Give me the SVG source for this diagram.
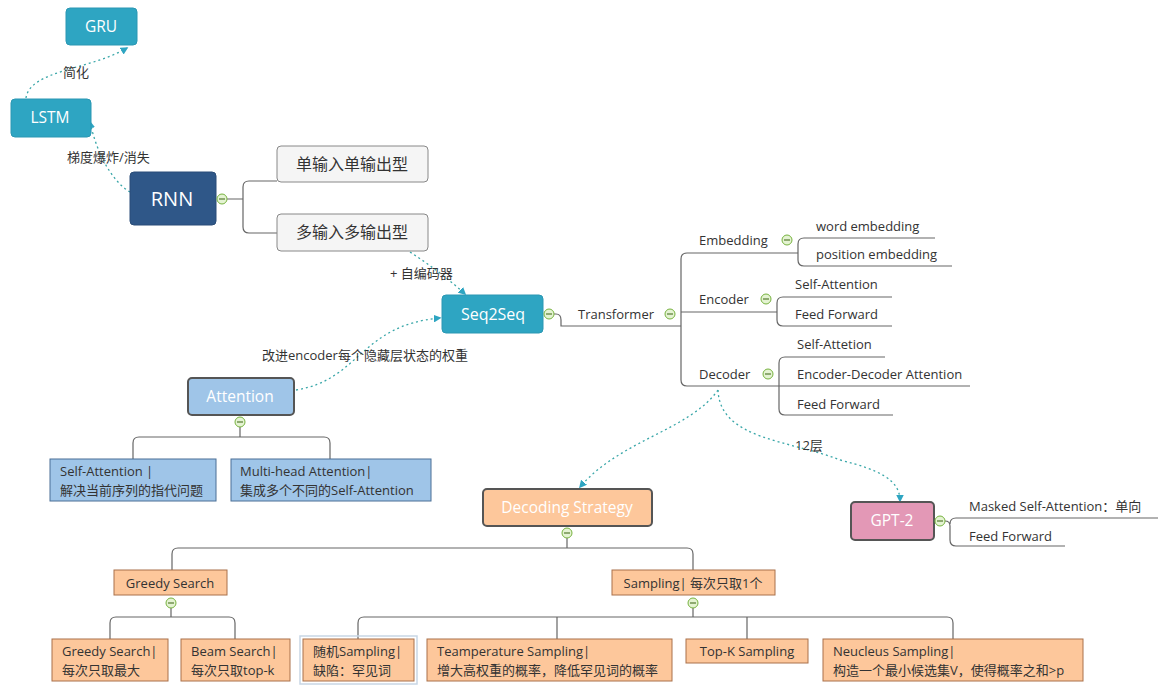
<svg xmlns="http://www.w3.org/2000/svg" width="1164" height="686" viewBox="0 0 1164 686">
<defs>
<style>
text{font-family:"Open Sans","Noto Sans CJK SC",sans-serif;font-size:13px;fill:#333}
text.w{fill:#fff;text-anchor:middle;font-size:15.5px}
text.c{text-anchor:middle}
text.big{font-size:16px}
text.rnn{font-size:20px}
text.s2s{font-size:16px}
.ln{fill:none;stroke:#666;stroke-width:1.2}
.dash{fill:none;stroke:#3aa7a9;stroke-width:1.3;stroke-dasharray:2 3;marker-end:url(#ah)}
.teal{fill:#2ea5c2;stroke:#2a97b3;stroke-width:1}
.gray{fill:#f5f5f5;stroke:#888;stroke-width:1}
.blue{fill:#9fc5e8;stroke:#4a6f96;stroke-width:1}
.orange{fill:#fdc79b;stroke:#a9714a;stroke-width:1}
.hl{stroke:#555;stroke-width:2}
.tog circle{fill:#e4f3d2;stroke:#77b23f;stroke-width:1}
.tog line{stroke:#557a30;stroke-width:1.2}
</style>
<marker id="ah" viewBox="0 0 10 10" refX="8" refY="5" markerWidth="6" markerHeight="6" orient="auto-start-reverse">
<path d="M0,0 L10,5 L0,10 z" fill="#2ea5c2"/>
</marker>
<g id="tg" class="tog"><circle r="5"/><line x1="-3" y1="0" x2="3" y2="0"/></g>
</defs>
<rect width="1164" height="686" fill="#fff"/>

<g id="connectors">
<path class="ln" d="M227,199 H243 M277,181 H249 Q243,181 243,187 V227 Q243,233 249,233 H277"/>
<path class="ln" d="M554,314 H556 Q561,314 561,320 V326 H681"/>
<path class="ln" d="M798,253 H687 Q681,253 681,259 V380 Q681,386 687,386 H970 M681,312 H777"/>
<path class="ln" d="M935,238 H804 Q798,238 798,244 V260 Q798,266 804,266 H952"/>
<path class="ln" d="M892,297 H783 Q777,297 777,303 V320 Q777,326 783,326 H892"/>
<path class="ln" d="M885,357 H785 Q779,357 779,363 V409 Q779,415 785,415 H893"/>
<path class="ln" d="M945,521 Q950,521 950,526 V540 Q950,546 956,546 H1065 M950,524 Q950,518 956,518 H1158"/>
<path class="ln" d="M240,427 V437 M133,459 V443 Q133,437 139,437 H324 Q330,437 330,443 V459"/>
<path class="ln" d="M567,538 V548 M172,570 V554 Q172,548 178,548 H687 Q693,548 693,554 V570"/>
<path class="ln" d="M171,608 V617 M110,639 V623 Q110,617 116,617 H229 Q235,617 235,623 V639"/>
<path class="ln" d="M693,608 V617 M358,639 V623 Q358,617 364,617 H947 Q953,617 953,623 V639 M557,617 V639 M747,617 V639"/>
<path class="dash" d="M130,192 C110,180 96,150 90,122"/>
<path class="dash" d="M26,98 C30,70 90,70 127,48"/>
<path class="dash" d="M410,252 C430,265 450,280 465,294"/>
<path class="dash" d="M296,390 C360,380 360,325 440,318"/>
<path class="dash" d="M718,390 C690,430 620,440 580,487"/>
<path class="dash" d="M718,390 C720,440 790,440 840,460 C880,470 900,480 900,501"/>
<text x="63" y="77">简化</text>
<text x="67" y="162">梯度爆炸/消失</text>
<text x="390" y="278">+ 自编码器</text>
<text x="262" y="360">改进encoder每个隐藏层状态的权重</text>
<text x="795" y="450">12层</text>
</g>

<g id="gru"><rect class="teal" x="66" y="8" width="71" height="37" rx="4"/><text class="w" x="101" y="32">GRU</text></g>
<g id="lstm"><rect class="teal" x="11" y="99" width="80" height="38" rx="4"/><text class="w" x="50" y="123">LSTM</text></g>
<g id="rnn"><rect x="130" y="172" width="86" height="53" rx="4" fill="#2f5788" stroke="#2a4d78"/><text class="w rnn" x="172" y="206">RNN</text><use href="#tg" x="222" y="199"/></g>
<g id="single"><rect class="gray" x="277" y="146" width="151" height="36" rx="4"/><text class="c big" x="352" y="170">单输入单输出型</text></g>
<g id="multi"><rect class="gray" x="277" y="214" width="151" height="37" rx="4"/><text class="c big" x="352" y="238">多输入多输出型</text></g>
<g id="seq2seq"><rect class="teal" x="442" y="295" width="101" height="38" rx="4"/><text class="w s2s" x="493" y="320">Seq2Seq</text><use href="#tg" x="549" y="314"/></g>
<g id="transformer"><text x="578" y="319">Transformer</text><use href="#tg" x="670" y="314"/></g>
<g id="embedding"><text x="699" y="245">Embedding</text><use href="#tg" x="787" y="240"/></g>
<g id="word-emb"><text x="816" y="231">word embedding</text></g>
<g id="pos-emb"><text x="816" y="259">position embedding</text></g>
<g id="encoder"><text x="699" y="304">Encoder</text><use href="#tg" x="766" y="299"/></g>
<g id="enc-sa"><text x="795" y="289">Self-Attention</text></g>
<g id="enc-ff"><text x="795" y="319">Feed Forward</text></g>
<g id="decoder"><text x="699" y="379">Decoder</text><use href="#tg" x="768" y="374"/></g>
<g id="dec-sa"><text x="797" y="349">Self-Attetion</text></g>
<g id="dec-eda"><text x="797" y="379">Encoder-Decoder Attention</text></g>
<g id="dec-ff"><text x="797" y="409">Feed Forward</text></g>

<g id="attention"><rect class="blue hl" x="188" y="378" width="106" height="37" rx="4"/><text class="w" x="240" y="402">Attention</text><use href="#tg" x="240" y="422"/></g>
<g id="self-att"><rect class="blue" x="50" y="459" width="166" height="42"/><text x="60" y="476">Self-Attention |</text><text x="60" y="495">解决当前序列的指代问题</text></g>
<g id="multihead"><rect class="blue" x="231" y="459" width="200" height="42"/><text x="240" y="476">Multi-head Attention|</text><text x="240" y="495">集成多个不同的Self-Attention</text></g>

<g id="decoding"><rect class="orange hl" x="483" y="489" width="169" height="37" rx="4"/><text class="w" x="567" y="513">Decoding Strategy</text><use href="#tg" x="567" y="533"/></g>
<g id="greedy"><rect class="orange" x="114" y="570" width="113" height="25"/><text class="c" x="170" y="588">Greedy Search</text><use href="#tg" x="171" y="603"/></g>
<g id="greedy2"><rect class="orange" x="52" y="639" width="116" height="42"/><text x="62" y="656">Greedy Search|</text><text x="62" y="675">每次只取最大</text></g>
<g id="beam"><rect class="orange" x="181" y="639" width="109" height="42"/><text x="191" y="656">Beam Search|</text><text x="191" y="675">每次只取top-k</text></g>
<g id="sampling"><rect class="orange" x="612" y="570" width="163" height="25"/><text class="c" x="693" y="588">Sampling| 每次只取1个</text><use href="#tg" x="693" y="603"/></g>
<g id="random"><rect x="300" y="636" width="117" height="48" fill="none" stroke="#c8d6e5" stroke-width="1.5"/><rect class="orange" x="303" y="639" width="111" height="42"/><text x="313" y="656">随机Sampling|</text><text x="313" y="675">缺陷：罕见词</text></g>
<g id="temp"><rect class="orange" x="427" y="639" width="245" height="42"/><text x="437" y="656">Teamperature Sampling|</text><text x="437" y="675">增大高权重的概率，降低罕见词的概率</text></g>
<g id="topk"><rect class="orange" x="686" y="639" width="122" height="24"/><text class="c" x="747" y="656">Top-K Sampling</text></g>
<g id="nucleus"><rect class="orange" x="823" y="639" width="260" height="42"/><text x="833" y="656">Neucleus Sampling|</text><text x="833" y="675">构造一个最小候选集V，使得概率之和&gt;p</text></g>

<g id="gpt2"><rect class="hl" x="851" y="502" width="83" height="38" rx="4" fill="#e398b6"/><text class="w" x="892" y="526">GPT-2</text><use href="#tg" x="940" y="521"/></g>
<g id="masked"><text x="969" y="511">Masked Self-Attention：单向</text></g>
<g id="gpt-ff"><text x="969" y="541">Feed Forward</text></g>
</svg>
